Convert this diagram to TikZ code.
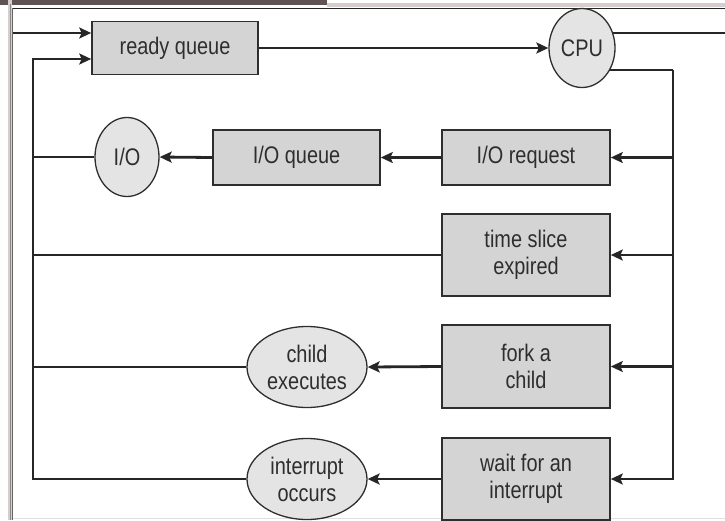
\documentclass[tikz,border=0pt]{standalone}
\usepackage{fontspec}
\setmainfont{Liberation Sans}[FakeStretch=0.83]
\usetikzlibrary{shapes.geometric,arrows.meta,backgrounds}

\definecolor{boxfill}{HTML}{D4D4D4}
\definecolor{ovalfill}{HTML}{E4E4E4}
\definecolor{inkgray}{HTML}{2E2E2E}
\definecolor{framedark}{HTML}{5E5454}
\definecolor{framelight}{HTML}{D6CECC}

\tikzset{
  label font/.style={font=\fontsize{24}{27}\selectfont, text=inkgray, align=center},
  queuebox/.style={rectangle, draw=inkgray, line width=1.6pt, fill=boxfill,
                   label font, inner sep=0pt},
  oval/.style={ellipse, draw=inkgray, line width=1.3pt, fill=ovalfill,
               label font, inner sep=0pt},
  link/.style={draw=black!85, line width=2.8pt},
  arr/.style={link, -{Stealth[length=12pt,width=11pt,inset=2.5pt]}},
}

\begin{document}
\begin{tikzpicture}[x=1pt, y=-1pt]
  \useasboundingbox (0,0) rectangle (725,520);

  % window frame
  \fill[framedark] (0,0) rectangle (327,4.5);
  \fill[framelight] (327,3) rectangle (725,6.5);
  \fill[framelight] (8,0) rectangle (12,520);
  \draw[framedark!70, line width=0.8pt] (10,4) -- (10,520);
  \draw[black!85, line width=1.6pt] (12,8.5) -- (725,8.5);
  \draw[black!60, line width=1pt] (12.5,8) -- (12.5,520);
  \draw[black!12, line width=1.5pt] (13,518.5) -- (725,518.5);

  % queues and devices
  \node[queuebox, minimum width=166pt, minimum height=53pt] (rq) at (175,48) {ready queue};
  \node[oval, minimum width=66pt, minimum height=79pt] (cpu) at (582,48) {CPU};
  \node[queuebox, minimum width=168pt, minimum height=55pt] (ioreq) at (526,157.5) {I/O request};
  \node[queuebox, minimum width=167pt, minimum height=55pt] (ioq) at (296.5,157.5) {I/O queue};
  \node[oval, minimum width=64pt, minimum height=79pt] (io) at (127,157) {I/O};
  \node[queuebox, minimum width=168pt, minimum height=82pt] (ts) at (526,255) {time slice\\expired};
  \node[queuebox, minimum width=168pt, minimum height=83pt] (fork) at (526,366.5) {fork a\\child};
  \node[oval, minimum width=120pt, minimum height=81pt] (child) at (307,367) {child\\executes};
  \node[queuebox, minimum width=168pt, minimum height=82pt] (wait) at (526,479) {wait for an\\interrupt};
  \node[oval, minimum width=120pt, minimum height=81pt] (intr) at (307,479) {interrupt\\occurs};

  % connector end points
  \coordinate (entry) at (13,33);
  \coordinate (exit) at (725,33);
  \coordinate (rt) at (673,70);
  \coordinate (lb) at (33,479);

  % forward path
  \draw[arr] (entry) -- (rq.west |- entry);
  \draw[arr] (rq.east) -- (cpu.west);

  \begin{scope}[on background layer]
    \draw[link] (cpu.center |- exit) -- (exit);
    \draw[link] (cpu.center |- rt) -- (rt);
  \end{scope}

  % CPU outcomes
  \draw[arr] (rt) |- (wait.east);
  \draw[arr] (ioreq.east -| rt) -- (ioreq.east);
  \draw[arr] (ts.east -| rt) -- (ts.east);
  \draw[arr] (fork.east -| rt) -- (fork.east);

  \draw[arr] (ioreq.west) -- (ioq.east);
  \draw[arr] (ioq.west) -- (io.east);
  \draw[arr] (fork.west) -- (child.east);
  \draw[arr] (wait.west) -- (intr.east);

  % return paths to the ready queue
  \draw[arr] (intr.west) -- (lb) |- ([yshift=-11pt]rq.west);
  \draw[link] (io.west) -- (io.west -| lb);
  \draw[link] (ts.west) -- (ts.west -| lb);
  \draw[link] (child.west) -- (child.west -| lb);
\end{tikzpicture}
\end{document}
